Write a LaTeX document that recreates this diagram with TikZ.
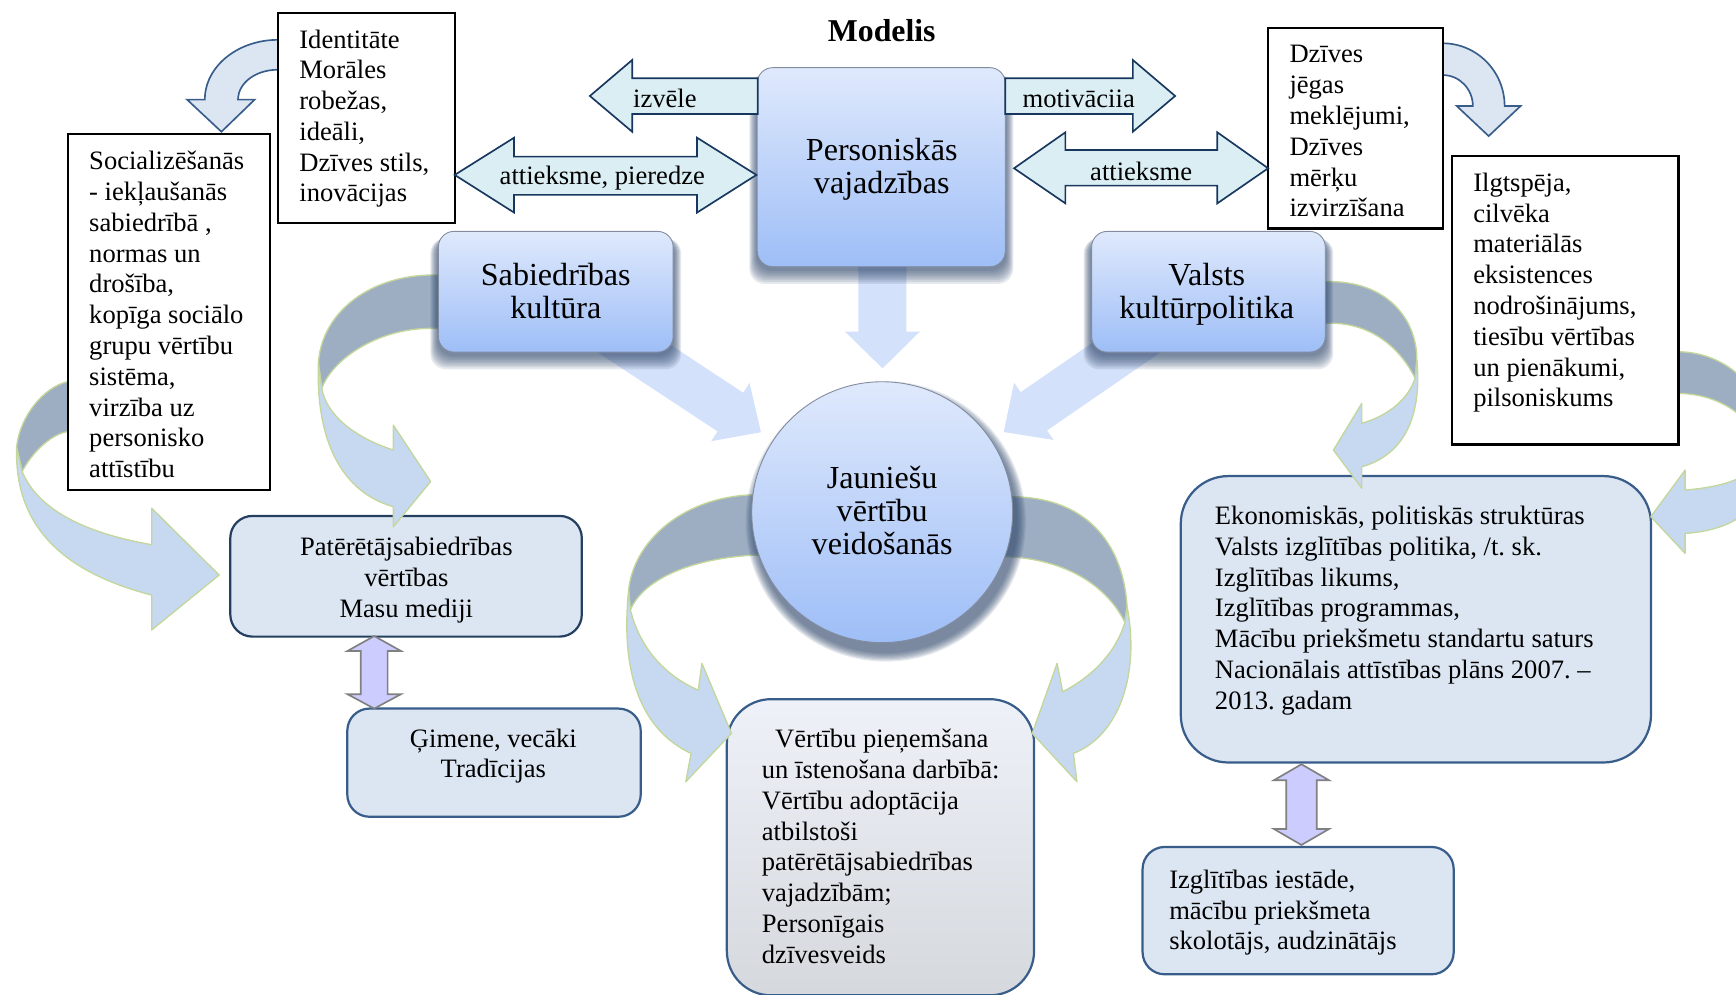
\documentclass[tikz,border=0pt]{standalone}
\usepackage{fontspec}
\setmainfont{Liberation Serif}
\usetikzlibrary{fit}
\frenchspacing

\definecolor{ribdark}{RGB}{158,174,194}
\definecolor{riblight}{RGB}{198,217,240}
\definecolor{ribedge}{RGB}{195,214,155}
\definecolor{tealfill}{RGB}{219,238,244}
\definecolor{navyedge}{RGB}{23,55,94}
\definecolor{paleblue}{RGB}{220,230,242}
\definecolor{midblue}{RGB}{56,93,138}
\definecolor{darkblue}{RGB}{36,63,96}
\definecolor{gradtop}{RGB}{223,233,252}
\definecolor{gradbot}{RGB}{158,190,247}
\definecolor{shadowblue}{RGB}{48,72,108}
\definecolor{flowfill}{RGB}{212,225,250}
\definecolor{lavender}{RGB}{204,204,255}
\definecolor{lavedge}{RGB}{128,128,128}
\definecolor{framegray}{RGB}{130,140,158}
\definecolor{graytop}{RGB}{238,242,248}
\definecolor{graybot}{RGB}{213,216,221}

% soft shadow under a rounded box: left, top, right, bottom, corner radius
\newcommand\boxshadow[5]{%
  \foreach \k in {1,...,8}{%
    \fill[shadowblue, opacity=0.12, rounded corners=#5]
      (#1-\k*0.9, #2+6) rectangle (#3+\k*0.9, #4+2+1.7*\k);
  }%
}

\begin{document}
\begin{tikzpicture}[x=0.5pt, y=-0.5pt,
  whitebox/.style={draw=black, line width=1pt, fill=white, inner sep=0pt},
  palebox/.style={draw=midblue, line width=1pt, fill=paleblue, inner sep=0pt},
  gradbox/.style={draw=framegray, line width=0.4pt, top color=gradtop, bottom color=gradbot, inner sep=0pt, rounded corners=7pt},
  ribbondark/.style={fill=ribdark, draw=ribedge, line width=0.6pt, line join=round},
  ribbonlight/.style={fill=riblight, draw=ribedge, line width=0.6pt, line join=round},
  blockarrow/.style={fill=tealfill, draw=navyedge, line width=0.75pt},
  bentarrow/.style={fill=paleblue, draw=midblue, line width=0.75pt},
  twoway/.style={fill=lavender, draw=lavedge, line width=0.75pt},
  flow/.style={fill=flowfill},
  body/.style={font=\fontsize{12}{13.9}\selectfont, inner sep=0pt, align=left, anchor=north west},
  bodyc/.style={font=\fontsize{12}{13.9}\selectfont, inner sep=0pt, align=center, anchor=north},
  big/.style={font=\fontsize{14.5}{15}\selectfont, inner sep=0pt, align=center, anchor=north},
  lbl/.style={font=\fontsize{12}{13.9}\selectfont, inner sep=0pt, anchor=base}]

\useasboundingbox (0,0) rectangle (1568,898);
\clip (0,0) rectangle (1568,898);

% pale rounded boxes
\node[palebox, draw=darkblue, rounded corners=10pt, fit={(208,466) (525.5,575)}] (pat) {};
\node[palebox, rounded corners=10pt, fit={(313.7,640) (578.7,737.7)}] (gim) {};
\node[palebox, rounded corners=21.5pt, fit={(1066.5,430) (1491.2,688.7)}] (eko) {};
\node[palebox, rounded corners=10pt, fit={(1032,765) (1313,880)}] (izg) {};
\node[draw=midblue, line width=1pt, inner sep=0pt, rounded corners=20pt, top color=graytop, bottom color=graybot, fit={(656.5,631.5) (934,899)}] (ver) {};

% twisted ribbon arrows
\path[ribbondark] (100,345) -- (60,345) .. controls (40,350) and (18,375) .. (15,404) -- (20,426) .. controls (28,410) and (45,393) .. (60,390) -- (100,390) -- cycle;
\path[ribbonlight] (15,404) .. controls (13,470) and (50,515) .. (137,537.5) -- (137,569) -- (198,519.4) -- (137,459) -- (137,492) .. controls (80,482) and (35,462) .. (20,426) -- cycle;

\path[ribbondark] (420,248.4) -- (388,248.4) .. controls (330,250) and (290,285) .. (287.6,328) -- (290.6,350.8) .. controls (300,325) and (340,297) .. (388,296.6) -- (420,296.6) -- cycle;
\path[ribbonlight] (287.6,328) .. controls (285,400) and (310,445) .. (355.3,457.7) -- (355.3,475.8) -- (389,435) -- (355.3,384) -- (355.3,406.5) .. controls (320,395) and (295,375) .. (290.6,350.8) -- cycle;

\path[ribbondark] (1180,254.4) -- (1204.4,254.4) .. controls (1255,256) and (1280,290) .. (1279.7,325.2) -- (1278.2,341.7) .. controls (1265,315) and (1240,293) .. (1204.4,292) -- (1180,292) -- cycle;
\path[ribbonlight] (1279.7,325.2) .. controls (1285,380) and (1265,412) .. (1230,421.6) -- (1230,441) -- (1204.4,406.5) -- (1230,364.3) -- (1230,382.4) .. controls (1255,375) and (1272,360) .. (1278.2,341.7) -- cycle;

\path[ribbondark] (1490,317.7) -- (1516,317.7) .. controls (1552,318) and (1590,342) .. (1596,390) -- (1593,410) .. controls (1585,378) and (1555,356) .. (1516,355.3) -- (1490,355.3) -- cycle;
\path[ribbonlight] (1596,390) .. controls (1606,445) and (1580,478) .. (1522,481.8) -- (1522,499.8) -- (1491,466.7) -- (1522,424.6) -- (1522,442.6) .. controls (1555,440) and (1585,432) .. (1593,410) -- cycle;

\path[ribbondark] (700,447) -- (677.5,447) .. controls (615,450) and (572,490) .. (567.8,533) -- (569.4,551) .. controls (580,525) and (620,505) .. (680.7,501.4) -- (700,501.4) -- cycle;
\path[ribbonlight] (567.8,533) .. controls (560,610) and (580,660) .. (624.2,680.5) -- (619.4,706.1) -- (660.7,662.4) -- (634,599.2) -- (630.7,623.3) .. controls (600,610) and (578,585) .. (569.4,551) -- cycle;

\path[ribbondark] (895,448.7) -- (916.2,448.7) .. controls (985,450) and (1015,495) .. (1018,548) -- (1016,562) .. controls (1000,530) and (965,506) .. (911.5,502.9) -- (895,502.9) -- cycle;
\path[ribbonlight] (1018,548) .. controls (1030,610) and (1010,665) .. (969.5,680.5) -- (972.7,706.1) -- (932.3,662.4) -- (954.8,599.2) -- (959.8,624.8) .. controls (985,612) and (1008,590) .. (1016,562) -- cycle;

% straight arrows into the circle
\path[flow] (775.4,225) -- (775.4,299.6) -- (763.3,299.6) -- (797.1,332.7) -- (830.8,299.6) -- (818.7,299.6) -- (818.7,225) -- cycle;
\path[flow] (523,307.2) -- (648.2,389.7) -- (642.4,398.5) -- (687.3,390.4) -- (677,345.9) -- (671.3,354.7) -- (546,272.2) -- cycle;
\path[flow] (1069.2,303.8) -- (945.7,388.8) -- (951.7,397.4) -- (906.6,390.2) -- (915.9,345.6) -- (921.9,354.2) -- (1045.4,269.2) -- cycle;

% shaded boxes and circle with soft shadows
\boxshadow{684}{61.1}{908}{240.9}{7pt}
\boxshadow{396}{209}{608}{318}{7pt}
\boxshadow{986}{209}{1197}{318}{7pt}
\foreach \k in {1,...,8}{\fill[shadowblue, opacity=0.12] (800,471) circle[radius=58.9pt+\k*0.55pt];}
\node[gradbox, fit={(684,61.1) (908,240.9)}] (pers) {};
\node[gradbox, fit={(396,209) (608,318)}] (sab) {};
\node[gradbox, fit={(986,209) (1197,318)}] (val) {};
\node[circle, draw=framegray, line width=0.4pt, top color=gradtop, bottom color=gradbot, minimum size=117.8pt, inner sep=0pt] (jaun) at (796.8,462.6) {};

% bent arrows at the top
\path[bentarrow] (251,36) .. controls (214.5,36) and (185,60.2) .. (185,90) -- (169,90) -- (200,119) -- (230,90) -- (215,90) .. controls (215,75.1) and (230.7,63) .. (251,63) -- cycle;
\path[bentarrow] (1303,39.1) .. controls (1333.9,39.1) and (1359,64.5) .. (1359,95.8) -- (1373.4,95.8) -- (1344.6,122.9) -- (1315.8,95.8) -- (1330.3,95.8) .. controls (1330.3,80.3) and (1318.1,67.8) .. (1303,67.8) -- cycle;

% framed text boxes
\node[whitebox, fit={(251,11.4) (410.7,201.7)}] (ident) {};
\node[whitebox, fit={(61.2,121) (243.7,442.6)}] (soc) {};
\node[whitebox, fit={(1145.5,25.6) (1303,206.3)}] (dziv) {};
\node[whitebox, fit={(1311.7,141) (1516,401.4)}] (ilg) {};

% block arrows around the needs box
\path[blockarrow] (684.4,70.7) -- (571,70.7) -- (571,54.2) -- (532.8,86.7) -- (571,119) -- (571,103) -- (684.4,103) -- cycle;
\path[blockarrow] (908,70.7) -- (1023.2,70.7) -- (1023.2,54.2) -- (1061.4,86.7) -- (1023.2,119) -- (1023.2,103) -- (908,103) -- cycle;
\path[blockarrow] (410.7,158) -- (464.3,124.4) -- (464.3,141.5) -- (629.6,141.5) -- (629.6,124.4) -- (683.2,158) -- (629.6,192) -- (629.6,176) -- (464.3,176) -- (464.3,192) -- cycle;
\path[blockarrow] (915.9,152) -- (962.3,119.5) -- (962.3,135.5) -- (1099.5,135.5) -- (1099.5,119.5) -- (1145.4,152) -- (1099.5,183.7) -- (1099.5,167.7) -- (962.3,167.7) -- (962.3,183.7) -- cycle;

% two-way vertical arrows
\path[twoway] (338,574.5) -- (362.2,588) -- (350.1,588) -- (350.1,627) -- (362.2,627) -- (338,640) -- (313.8,627) -- (325.9,627) -- (325.9,588) -- (313.8,588) -- cycle;
\path[twoway] (1175.5,690.3) -- (1200.5,704.8) -- (1189.3,704.8) -- (1189.3,748.7) -- (1200.5,748.7) -- (1175.5,763.2) -- (1150.5,748.7) -- (1161.7,748.7) -- (1161.7,704.8) -- (1150.5,704.8) -- cycle;

% texts
\node[font=\bfseries\fontsize{14.35}{16}\selectfont, anchor=base, inner sep=0pt] (title) at (796.4,37.6) {Modelis};
\node[lbl] (izv) at (600.5,97) {izvēle};
\node[lbl] (mot) at (974.3,97) {motivāciia};
\node[lbl] (att1) at (544,167) {attieksme, pieredze};
\node[lbl] (att2) at (1030.7,162.6) {attieksme};

\node[big] (perst) at (796.4,123.5) {\strut Personiskās\\vajadzības};
\node[big] (sabt) at (502,236.5) {\strut Sabiedrības\\kultūra};
\node[big] (valt) at (1090,236.5) {\strut Valsts\\kultūrpolitika};
\node[big] (jaunt) at (796.8,419.6) {\strut Jauniešu\\vērtību\\veidošanās};

\node[body] (identt) at (270,23.5) {\strut Identitāte\\Morāles\\robežas,\\ideāli,\\Dzīves stils,\\inovācijas};
\node[body] (soct) at (80.2,133.5) {\strut Socializēšanās\\- iekļaušanās\\sabiedrībā ,\\normas un\\drošība,\\kopīga sociālo\\grupu vērtību\\sistēma,\\virzība uz\\personisko\\attīstību};
\node[body] (dzivt) at (1164.3,37) {\strut Dzīves\\jēgas\\meklējumi,\\Dzīves\\mērķu\\izvirzīšana};
\node[body] (ilgt) at (1330.3,153) {\strut Ilgtspēja,\\cilvēka\\materiālās\\eksistences\\nodrošinājums,\\tiesību vērtības\\un pienākumi,\\pilsoniskums};
\node[body] (ekot) at (1097,454) {\strut Ekonomiskās, politiskās struktūras\\Valsts izglītības politika, /t. sk.\\Izglītības likums,\\Izglītības programmas,\\Mācību priekšmetu standartu saturs\\Nacionālais attīstības plāns 2007. –\\2013. gadam};
\node[body] (izgt) at (1055.7,782.5) {\strut Izglītības iestāde,\\mācību priekšmeta\\skolotājs, audzinātājs};
\node[body] (vert) at (687.8,655.5) {\strut\hspace{6pt}Vērtību pieņemšana\\un īstenošana darbībā:\\Vērtību adoptācija\\atbilstoši\\patērētājsabiedrības\\vajadzībām;\\Personīgais\\dzīvesveids};
\node[bodyc] (patt) at (367,481.9) {\strut Patērētājsabiedrības\\vērtības\\Masu mediji};
\node[bodyc] (gimt) at (445.6,655) {\strut Ģimene, vecāki\\Tradīcijas};

\end{tikzpicture}
\end{document}
